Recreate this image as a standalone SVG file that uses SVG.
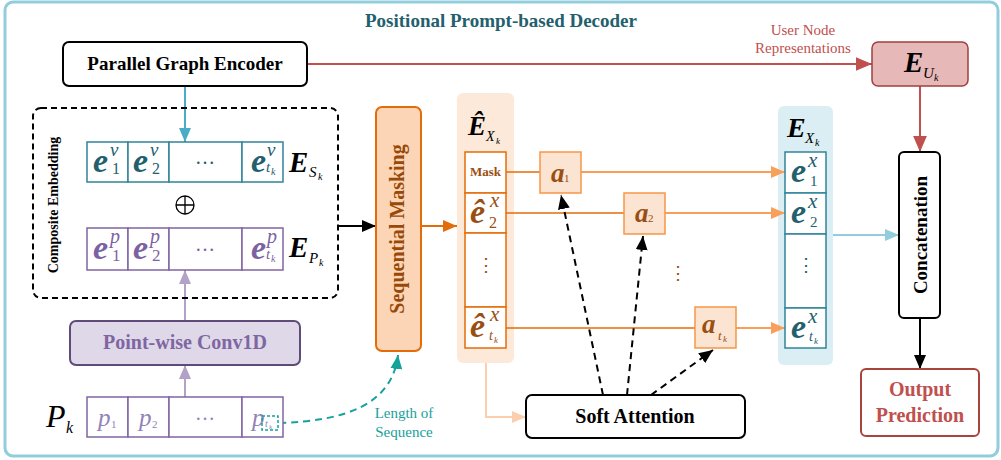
<svg xmlns="http://www.w3.org/2000/svg" width="1001" height="460" viewBox="0 0 1001 460">
  <style>
    text { font-family: "Liberation Serif", "Times New Roman", serif; }
    .b { font-weight: bold; }
    .bi { font-weight: bold; font-style: italic; }
    .i { font-style: italic; }
    .box { fill: #ffffff; stroke: #000000; stroke-width: 2; }
    .cellS { fill: #ffffff; stroke: #31849B; stroke-width: 1.5; }
    .cellP { fill: #ffffff; stroke: #8064A2; stroke-width: 1.5; }
    .cellO { fill: #ffffff; stroke: #E36C09; stroke-width: 1.5; }
    .abox { fill: #FCE4D3; stroke: #F79646; stroke-width: 1.5; }
    .teal { fill: #22606E; }
    .purp { fill: #7D62A3; }
    .plite { fill: #9382B8; }
    .brown { fill: #9A4F12; }
    .dots { font-family: "DejaVu Serif", serif; }
  </style>
  <defs>
    <marker id="ar-red" viewBox="0 0 14 12" refX="14" refY="6" markerWidth="16" markerHeight="14" markerUnits="userSpaceOnUse" orient="auto"><path d="M0,0 L14,6 L0,12 z" fill="#C0504D"/></marker>
    <marker id="ar-blue" viewBox="0 0 14 12" refX="14" refY="6" markerWidth="14" markerHeight="12" markerUnits="userSpaceOnUse" orient="auto"><path d="M0,0 L14,6 L0,12 z" fill="#4BACC6"/></marker>
    <marker id="ar-purp" viewBox="0 0 14 12" refX="14" refY="6" markerWidth="14" markerHeight="12" markerUnits="userSpaceOnUse" orient="auto"><path d="M0,0 L14,6 L0,12 z" fill="#B3A2C7"/></marker>
    <marker id="ar-black" viewBox="0 0 14 12" refX="14" refY="6" markerWidth="14" markerHeight="12" markerUnits="userSpaceOnUse" orient="auto"><path d="M0,0 L14,6 L0,12 z" fill="#000000"/></marker>
    <marker id="ar-orange" viewBox="0 0 14 12" refX="14" refY="6" markerWidth="14" markerHeight="12" markerUnits="userSpaceOnUse" orient="auto"><path d="M0,0 L14,6 L0,12 z" fill="#E36C09"/></marker>
    <marker id="ar-lorange" viewBox="0 0 14 12" refX="14" refY="6" markerWidth="14" markerHeight="12" markerUnits="userSpaceOnUse" orient="auto"><path d="M0,0 L14,6 L0,12 z" fill="#F8A05A"/></marker>
    <marker id="ar-lblue" viewBox="0 0 14 12" refX="14" refY="6" markerWidth="14" markerHeight="12" markerUnits="userSpaceOnUse" orient="auto"><path d="M0,0 L14,6 L0,12 z" fill="#92CDDC"/></marker>
    <marker id="ar-peach" viewBox="0 0 14 12" refX="14" refY="6" markerWidth="14" markerHeight="12" markerUnits="userSpaceOnUse" orient="auto"><path d="M0,0 L14,6 L0,12 z" fill="#FBCFAE"/></marker>
    <marker id="ar-cyan" viewBox="0 0 14 12" refX="14" refY="6" markerWidth="14" markerHeight="12" markerUnits="userSpaceOnUse" orient="auto"><path d="M0,0 L14,6 L0,12 z" fill="#17A19C"/></marker>
  </defs>

  <!-- outer frame and title -->
  <rect x="5" y="2" width="993" height="454" rx="8" fill="#ffffff" stroke="#92CDDC" stroke-width="3"/>
  <text x="501" y="27" class="b" font-size="19" fill="#245F6E" text-anchor="middle">Positional Prompt-based Decoder</text>

  <!-- column backgrounds -->
  <rect x="457" y="93" width="57" height="270" rx="6" fill="#FDE9D9"/>
  <rect x="778" y="106" width="55" height="259" rx="6" fill="#DAEEF3"/>

  <!-- connectors -->
  <g id="connectors" fill="none">
    <path d="M307,64 H872" stroke="#C0504D" stroke-width="2" marker-end="url(#ar-red)"/>
    <path d="M920,86 V152" stroke="#C0504D" stroke-width="2" marker-end="url(#ar-red)"/>
    <path d="M185,86 V142" stroke="#4BACC6" stroke-width="2" marker-end="url(#ar-blue)"/>
    <path d="M185,321 V270" stroke="#B3A2C7" stroke-width="2" marker-end="url(#ar-purp)"/>
    <path d="M185,397 V365" stroke="#B3A2C7" stroke-width="2" marker-end="url(#ar-purp)"/>
    <path d="M338,226 H376" stroke="#000000" stroke-width="2" marker-end="url(#ar-black)"/>
    <path d="M421,226 H457" stroke="#E36C09" stroke-width="2" marker-end="url(#ar-orange)"/>
    <path d="M506,172 H540" stroke="#E36C09" stroke-width="1.5"/>
    <path d="M581,172 H785" stroke="#F8A05A" stroke-width="2" marker-end="url(#ar-lorange)"/>
    <path d="M506,213 H624" stroke="#E36C09" stroke-width="1.5"/>
    <path d="M665,213 H785" stroke="#F8A05A" stroke-width="2" marker-end="url(#ar-lorange)"/>
    <path d="M506,328 H695" stroke="#E36C09" stroke-width="1.5"/>
    <path d="M736,328 H785" stroke="#F8A05A" stroke-width="2" marker-end="url(#ar-lorange)"/>
    <path d="M833,235 H899" stroke="#92CDDC" stroke-width="2" marker-end="url(#ar-lblue)"/>
    <path d="M920,318 V369" stroke="#000000" stroke-width="2" marker-end="url(#ar-black)"/>
    <path d="M486,363 V417 H526" stroke="#FBCFAE" stroke-width="2" marker-end="url(#ar-peach)"/>
    <path d="M603,395 L561,195" stroke="#000000" stroke-width="2" stroke-dasharray="7,5" marker-end="url(#ar-black)"/>
    <path d="M627,395 L643,236" stroke="#000000" stroke-width="2" stroke-dasharray="7,5" marker-end="url(#ar-black)"/>
    <path d="M651,395 L713,350" stroke="#000000" stroke-width="2" stroke-dasharray="7,5" marker-end="url(#ar-black)"/>
    <path d="M279,423 C345,421 392,405 398,355" stroke="#17A19C" stroke-width="2" stroke-dasharray="7,5" marker-end="url(#ar-cyan)"/>
  </g>

  <!-- Parallel Graph Encoder -->
  <g id="graph-encoder">
    <rect x="63" y="42" width="244" height="44" rx="6" class="box"/>
    <text x="185" y="70" class="b" font-size="19" text-anchor="middle">Parallel Graph Encoder</text>
  </g>

  <!-- User node representation label and E_U -->
  <g id="user-repr-label">
    <text x="803" y="35" font-size="15" fill="#C0504D" text-anchor="middle">User Node</text>
    <text x="803" y="53" font-size="15" fill="#C0504D" text-anchor="middle">Representations</text>
  </g>
  <g id="user-embedding">
    <rect x="872" y="42" width="96" height="44" rx="6" fill="#E6B9B8" stroke="#A0403D" stroke-width="1.5"/>
    <text x="904" y="72" class="bi" font-size="29">E</text>
    <text x="923" y="78" class="i" font-size="15">U</text>
    <text x="934" y="81" class="i" font-size="10">k</text>
  </g>

  <!-- Composite embedding -->
  <g id="composite-embedding">
    <rect x="33" y="108" width="305" height="190" rx="8" fill="none" stroke="#000000" stroke-width="2" stroke-dasharray="6,4"/>
    <text transform="translate(58,205) rotate(-90)" class="b" font-size="14" text-anchor="middle">Composite Embedding</text>
  </g>

  <!-- Sequence embedding row -->
  <g id="seq-embedding">
    <rect x="87" y="142" width="41" height="40" class="cellS"/>
    <rect x="128" y="142" width="41" height="40" class="cellS"/>
    <rect x="169" y="142" width="73" height="40" class="cellS"/>
    <rect x="242" y="142" width="41" height="40" class="cellS"/>
    <text x="93" y="172" class="bi teal" font-size="34">e</text>
    <text x="110" y="156" class="i teal" font-size="19">v</text>
    <text x="112" y="174" class="teal" font-size="16">1</text>
    <text x="133" y="172" class="bi teal" font-size="34">e</text>
    <text x="150" y="156" class="i teal" font-size="19">v</text>
    <text x="152" y="174" class="teal" font-size="16">2</text>
    <text x="205" y="164" class="teal" font-size="20" text-anchor="middle">…</text>
    <text x="251" y="172" class="bi teal" font-size="34">e</text>
    <text x="267" y="156" class="i teal" font-size="19">v</text>
    <text x="266" y="172" class="i teal" font-size="15">t</text>
    <text x="271" y="175" class="i teal" font-size="10">k</text>
    <text x="289" y="172" class="bi" font-size="29">E</text>
    <text x="309" y="177" class="i" font-size="15">S</text>
    <text x="318" y="180" class="i" font-size="10">k</text>
  </g>

  <!-- direct sum -->
  <g id="direct-sum" fill="none" stroke="#000000" stroke-width="1.3">
    <circle cx="185" cy="205" r="9"/>
    <path d="M176,205 H194 M185,196 V214"/>
  </g>

  <!-- Position embedding row -->
  <g id="pos-embedding">
    <rect x="87" y="228" width="41" height="42" class="cellP"/>
    <rect x="128" y="228" width="41" height="42" class="cellP"/>
    <rect x="169" y="228" width="73" height="42" class="cellP"/>
    <rect x="242" y="228" width="41" height="42" class="cellP"/>
    <text x="93" y="259" class="bi purp" font-size="34">e</text>
    <text x="110" y="243" class="i purp" font-size="20">p</text>
    <text x="112" y="261" class="purp" font-size="17">1</text>
    <text x="133" y="259" class="bi purp" font-size="34">e</text>
    <text x="150" y="243" class="i purp" font-size="20">p</text>
    <text x="152" y="261" class="purp" font-size="17">2</text>
    <text x="205" y="251" class="purp" font-size="20" text-anchor="middle">…</text>
    <text x="251" y="259" class="bi purp" font-size="34">e</text>
    <text x="267" y="243" class="i purp" font-size="20">p</text>
    <text x="266" y="259" class="i purp" font-size="15">t</text>
    <text x="271" y="262" class="i purp" font-size="10">k</text>
    <text x="289" y="257" class="bi" font-size="29">E</text>
    <text x="309" y="263" class="i" font-size="15">P</text>
    <text x="319" y="266" class="i" font-size="10">k</text>
  </g>

  <!-- Point-wise Conv1D -->
  <g id="conv1d">
    <rect x="70" y="321" width="230" height="44" rx="6" fill="#DFD8E8" stroke="#5F4B7A" stroke-width="2"/>
    <text x="185" y="349" class="b" font-size="20" fill="#7F66A2" text-anchor="middle">Point-wise Conv1D</text>
  </g>

  <!-- Position sequence P_k -->
  <g id="positions">
    <rect x="87" y="397" width="41" height="40" class="cellP"/>
    <rect x="128" y="397" width="41" height="40" class="cellP"/>
    <rect x="169" y="397" width="73" height="40" class="cellP"/>
    <rect x="242" y="397" width="41" height="40" class="cellP"/>
    <text x="98" y="426" class="i plite" font-size="25">p</text>
    <text x="111" y="428" class="plite" font-size="11">1</text>
    <text x="139" y="426" class="i plite" font-size="25">p</text>
    <text x="152" y="428" class="plite" font-size="11">2</text>
    <text x="205" y="420" class="plite" font-size="20" text-anchor="middle">…</text>
    <text x="252" y="426" class="i plite" font-size="25">p</text>
    <text x="265" y="427" class="i plite" font-size="10">t</text>
    <text x="269" y="429" class="i plite" font-size="7">k</text>
    <rect x="262" y="416" width="16" height="14" fill="none" stroke="#17A19C" stroke-width="1.5" stroke-dasharray="3,2"/>
    <text x="46" y="427" class="i" font-size="32">P</text>
    <text x="66" y="433" class="i" font-size="16">k</text>
  </g>
  <g id="length-label">
    <text x="404" y="418" font-size="15" fill="#17A19C" text-anchor="middle">Length of</text>
    <text x="404" y="437" font-size="15" fill="#17A19C" text-anchor="middle">Sequence</text>
  </g>

  <!-- Sequential Masking -->
  <g id="sequential-masking">
    <rect x="376" y="107" width="45" height="244" rx="6" fill="#FBD5B5" stroke="#E36C09" stroke-width="2"/>
    <text transform="translate(404,229) rotate(-90)" class="b" font-size="20" fill="#984807" text-anchor="middle">Sequential Masking</text>
  </g>

  <!-- Masked embedding column -->
  <g id="masked-embedding">
    <text x="468" y="135" class="bi" font-size="27">Ê</text>
    <text x="486" y="141" class="i" font-size="14">X</text>
    <text x="496" y="144" class="i" font-size="9">k</text>
    <rect x="465" y="152" width="41" height="41" class="cellO"/>
    <rect x="465" y="193" width="41" height="40" class="cellO"/>
    <rect x="465" y="233" width="41" height="74" class="cellO"/>
    <rect x="465" y="307" width="41" height="41" class="cellO"/>
    <text x="485.5" y="176" class="b brown" font-size="13" text-anchor="middle">Mask</text>
    <text x="470" y="223" class="bi brown" font-size="34">ê</text>
    <text x="490" y="207" class="i brown" font-size="21">x</text>
    <text x="489" y="228" class="brown" font-size="16">2</text>
    <text x="485.5" y="271" class="dots brown" font-size="18" text-anchor="middle">⋮</text>
    <text x="470" y="337" class="bi brown" font-size="34">ê</text>
    <text x="490" y="321" class="i brown" font-size="21">x</text>
    <text x="489" y="340" class="i brown" font-size="14">t</text>
    <text x="494" y="343" class="i brown" font-size="9">k</text>
  </g>

  <!-- attention weights -->
  <g id="weight-a1">
    <rect x="540" y="152" width="41" height="41" class="abox"/>
    <text x="551" y="182" class="bi brown" font-size="27">a</text>
    <text x="564" y="182" class="brown" font-size="11">1</text>
  </g>
  <g id="weight-a2">
    <rect x="624" y="193" width="41" height="41" class="abox"/>
    <text x="635" y="222" class="bi brown" font-size="27">a</text>
    <text x="648" y="222" class="brown" font-size="11">2</text>
  </g>
  <text x="678" y="279" class="dots brown" font-size="18" text-anchor="middle">⋮</text>
  <g id="weight-atk">
    <rect x="695" y="307" width="41" height="41" class="abox"/>
    <text x="702" y="333" class="bi brown" font-size="27">a</text>
    <text x="718" y="340" class="i brown" font-size="13">t</text>
    <text x="723" y="342" class="i brown" font-size="9">k</text>
  </g>

  <!-- Output embedding column -->
  <g id="item-embedding">
    <text x="787" y="137" class="bi" font-size="28">E</text>
    <text x="805" y="143" class="i" font-size="15">X</text>
    <text x="815" y="146" class="i" font-size="10">k</text>
    <rect x="785" y="152" width="41" height="41" class="cellS"/>
    <rect x="785" y="193" width="41" height="41" class="cellS"/>
    <rect x="785" y="234" width="41" height="74" class="cellS"/>
    <rect x="785" y="308" width="41" height="40" class="cellS"/>
    <text x="791" y="182" class="bi teal" font-size="34">e</text>
    <text x="808" y="167" class="i teal" font-size="21">x</text>
    <text x="810" y="186" class="teal" font-size="15">1</text>
    <text x="791" y="223" class="bi teal" font-size="34">e</text>
    <text x="808" y="208" class="i teal" font-size="21">x</text>
    <text x="810" y="227" class="teal" font-size="15">2</text>
    <text x="806" y="271" class="dots teal" font-size="18" text-anchor="middle">⋮</text>
    <text x="791" y="338" class="bi teal" font-size="34">e</text>
    <text x="808" y="323" class="i teal" font-size="21">x</text>
    <text x="809" y="341" class="i teal" font-size="14">t</text>
    <text x="814" y="344" class="i teal" font-size="9">k</text>
  </g>

  <!-- Soft Attention -->
  <g id="soft-attention">
    <rect x="526" y="395" width="219" height="43" rx="6" class="box"/>
    <text x="635" y="423" class="b" font-size="20" text-anchor="middle">Soft Attention</text>
  </g>

  <!-- Concatenation -->
  <g id="concatenation">
    <rect x="899" y="152" width="41" height="166" rx="5" class="box"/>
    <text transform="translate(927,235) rotate(-90)" class="b" font-size="19" text-anchor="middle">Concatenation</text>
  </g>

  <!-- Output Prediction -->
  <g id="output-prediction">
    <rect x="861" y="369" width="118" height="67" rx="5" fill="#ffffff" stroke="#A9433E" stroke-width="2"/>
    <text x="920" y="396" class="b" font-size="20" fill="#C0504D" text-anchor="middle">Output</text>
    <text x="920" y="422" class="b" font-size="20" fill="#C0504D" text-anchor="middle">Prediction</text>
  </g>
</svg>
